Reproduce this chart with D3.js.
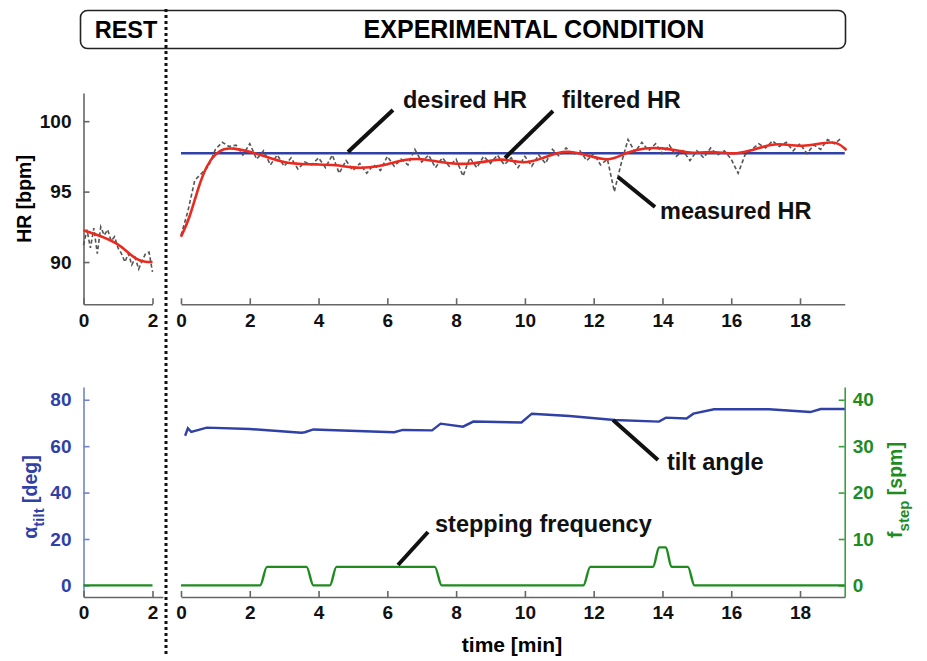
<!DOCTYPE html>
<html>
<head>
<meta charset="utf-8">
<script src="https://cdn.jsdelivr.net/npm/d3@7"></script>
<style>
  body { margin: 0; background: #fff; }
  text { font-family: "Liberation Sans", Arial, sans-serif; font-weight: bold; }
</style>
</head>
<body>
<div id="plot_chart"></div>
<script>
// --- data ---
// rest period (min 0..2)
var restTime = [0,0.1,0.2,0.3,0.4,0.5,0.6,0.7,0.8,0.9,1.0,1.1,1.2,1.3,1.4,1.5,1.6,1.7,1.8,1.9,2.0];
var restMeasured = [91.2,92.3,91.0,92.4,90.6,92.5,91.9,92.3,91.5,91.8,91.0,90.6,90.0,90.6,89.8,90.3,89.5,90.1,90.6,90.7,89.3];
var restFiltTime = [0,0.5,1.0,1.25,1.55,1.8,2.0];
var restFiltered = [92.25,91.85,91.3,90.75,90.15,90.0,90.0];

// experimental condition
var desiredHR = 97.72;
var measStep = 0.2;
var measuredHR = [91.9,93.6,95.8,96.3,96.8,98.0,98.5,98.2,98.3,97.6,
  98.4,97.3,97.9,96.9,97.6,96.8,97.4,96.6,97.1,96.9,
  97.4,96.7,97.6,96.3,97.2,96.5,97.0,96.3,96.9,96.5,
  97.5,96.8,97.3,96.9,98.0,97.1,97.6,96.7,97.4,96.8,
  97.3,96.1,97.4,96.7,97.5,97.0,97.6,96.9,97.4,96.7,
  97.5,96.8,97.6,97.0,98.0,97.5,98.1,97.6,97.9,97.2,
  97.7,96.9,97.3,95.0,97.0,98.7,97.8,98.5,97.9,98.4,
  97.7,98.3,97.5,97.9,97.2,97.9,97.4,98.1,97.6,97.9,
  97.3,96.3,97.6,98.0,98.4,98.1,98.6,98.2,98.5,97.9,
  98.4,97.7,98.3,98.0,98.7,98.4,98.8];
var filtTime = [0,0.25,0.5,0.75,1.0,1.25,1.5,2.0,2.5,3.0,3.5,4.0,4.5,5.0,5.5,6.0,6.5,7.0,7.5,8.0,8.5,9.0,9.4,9.95,10.5,11.0,11.3,11.8,12.45,12.95,13.5,14.0,14.5,14.85,15.4,16.1,16.5,17.2,17.6,18.05,18.7,19.1,19.35];
var filtered = [91.8,93.1,95.3,96.9,97.7,98.05,98.1,97.85,97.45,97.05,96.95,96.93,96.9,96.68,96.7,96.92,97.3,97.35,97.1,96.95,96.98,97.2,97.35,96.95,97.35,97.8,97.87,97.6,97.1,97.8,98.12,98.1,97.9,97.7,97.87,97.64,97.87,98.4,98.35,98.18,98.48,98.53,97.94];

var tiltTime = [0.12,0.2,0.3,0.75,2,3.5,3.6,3.85,6.2,6.45,7.3,7.55,8.2,8.5,9.9,10.2,11.3,12.6,13.9,14.1,14.7,14.9,15.5,17.1,18.3,18.6,19.3];
var tiltAngle = [64.5,67.7,66.1,68.0,67.4,65.8,66.0,67.2,66.0,67.0,66.8,69.7,68.4,70.6,70.2,74.0,73.0,71.3,70.6,72.3,71.9,74.0,75.9,75.9,74.7,76.0,76.0];

var stepTime = [0,2.3,2.5,3.65,3.85,4.33,4.52,7.38,7.58,11.7,11.9,13.73,13.9,14.1,14.26,14.74,14.93,19.3];
var stepFreq = [0,0,4,4,0,0,4,4,0,0,4,4,8.2,8.2,4,4,0,0];
var restStepTime = [0,2];
var restStep = [0,0];

var xTicksRest = [0,2];
var xTicksExp = [0,2,4,6,8,10,12,14,16,18];
var hrTicks = [90,95,100];
var tiltTicks = [0,20,40,60,80];
var stepTicks = [0,10,20,30,40];

var blue = '#2f40a6', red = '#ea2a1f', green = '#1f8c1f', gray = '#666';

var svg = d3.select('#plot_chart').append('svg').attr('width', 927).attr('height', 661);

// scales
var xRest = d3.scaleLinear().domain([0,2]).range([83.5,152.5]);
var xRestB = d3.scaleLinear().domain([0,2.3]).range([83.5,83.5+2.3*34.5]);
var xExp = d3.scaleLinear().domain([0,19.3]).range([181,181+19.3*34.39]);
var yHR = d3.scaleLinear().domain([87,102]).range([304.3,93]);
var yTilt = d3.scaleLinear().domain([-5,85.5]).range([597,387]);
var yStep = d3.scaleLinear().domain([-2.5,42.75]).range([597,387]);
var fmt = d3.format('d');

function styleAxis(g, col, txtCol) {
  g.selectAll('path,line').attr('stroke', col).attr('stroke-width', 1.6);
  g.selectAll('text').attr('fill', txtCol).style('font-size', '19px')
    .style('font-family', '"Liberation Sans", Arial, sans-serif').style('font-weight', 'bold');
}

// header
svg.append('rect').attr('x', 80.5).attr('y', 10.5).attr('width', 765).attr('height', 38).attr('rx', 7)
  .attr('fill', 'none').attr('stroke', '#222').attr('stroke-width', 1.6);
svg.append('text').attr('x', 126).attr('y', 37.5).attr('text-anchor', 'middle').style('font-size', '23.5px').text('REST');
svg.append('text').attr('x', 534).attr('y', 37.5).attr('text-anchor', 'middle').style('font-size', '25px').text('EXPERIMENTAL CONDITION');

// ---- top panels ----
var ax;
ax = svg.append('g').attr('transform', 'translate(83.5,0)')
  .call(d3.axisLeft(yHR).tickValues(hrTicks).tickSize(-6).tickSizeOuter(0).tickPadding(12).tickFormat(fmt));
styleAxis(ax, gray, '#111');
ax = svg.append('g').attr('transform', 'translate(0,304.3)')
  .call(d3.axisBottom(xRest).tickValues(xTicksRest).tickSize(-6).tickSizeOuter(0).tickPadding(9).tickFormat(fmt));
styleAxis(ax, gray, '#111');
ax = svg.append('g').attr('transform', 'translate(0,304.3)')
  .call(d3.axisBottom(xExp).tickValues(xTicksExp).tickSize(-6).tickSizeOuter(0).tickPadding(9).tickFormat(fmt));
styleAxis(ax, gray, '#111');

svg.append('text').attr('transform', 'translate(31,199) rotate(-90)').attr('text-anchor', 'middle')
  .style('font-size', '19.5px').text('HR [bpm]');

var restMeasPts = restTime.map(function(t,i){ return [xRest(t), yHR(restMeasured[i])]; });
var restFiltPts = restFiltTime.map(function(t,i){ return [xRest(t), yHR(restFiltered[i])]; });
var measPts = measuredHR.map(function(v,i){ return [xExp(i*measStep), yHR(v)]; });
var filtPts = filtTime.map(function(t,i){ return [xExp(t), yHR(filtered[i])]; });

var lineLin = d3.line();
var lineSmooth = d3.line().curve(d3.curveBasis);

svg.append('line').attr('x1', xExp(0)).attr('x2', xExp(19.3)).attr('y1', yHR(desiredHR)).attr('y2', yHR(desiredHR))
  .attr('stroke', blue).attr('stroke-width', 2.6);
[restMeasPts, measPts].forEach(function(p){
  svg.append('path').attr('d', lineLin(p)).attr('fill', 'none').attr('stroke', '#555')
    .attr('stroke-width', 1.6).attr('stroke-dasharray', '4,2.5');
});
[restFiltPts, filtPts].forEach(function(p){
  svg.append('path').attr('d', lineSmooth(p)).attr('fill', 'none').attr('stroke', red).attr('stroke-width', 2.6);
});

// ---- bottom panels ----
ax = svg.append('g').attr('transform', 'translate(83.5,0)')
  .call(d3.axisLeft(yTilt).tickValues(tiltTicks).tickSize(-6).tickSizeOuter(0).tickPadding(12).tickFormat(fmt));
styleAxis(ax, '#7384c8', blue);
ax = svg.append('g').attr('transform', 'translate(844.7,0)')
  .call(d3.axisRight(yStep).tickValues(stepTicks).tickSize(-6).tickSizeOuter(0).tickPadding(8).tickFormat(fmt));
styleAxis(ax, '#3a9f3a', green);
ax = svg.append('g').attr('transform', 'translate(0,597)')
  .call(d3.axisBottom(xRestB).tickValues(xTicksRest).tickSize(-6).tickSizeOuter(0).tickPadding(9).tickFormat(fmt));
styleAxis(ax, gray, '#111');
ax = svg.append('g').attr('transform', 'translate(0,597)')
  .call(d3.axisBottom(xExp).tickValues(xTicksExp).tickSize(-6).tickSizeOuter(0).tickPadding(9).tickFormat(fmt));
styleAxis(ax, gray, '#111');

var aLab = svg.append('text').attr('transform', 'translate(37,497) rotate(-90)').attr('text-anchor', 'middle')
  .attr('fill', blue).style('font-size', '19.5px');
aLab.append('tspan').text('\u03b1');
aLab.append('tspan').attr('dy', 7).style('font-size', '15px').text('tilt');
aLab.append('tspan').attr('dy', -7).text(' [deg]');

var fLab = svg.append('text').attr('transform', 'translate(902,490) rotate(-90)').attr('text-anchor', 'middle')
  .attr('fill', green).style('font-size', '19.5px');
fLab.append('tspan').text('f');
fLab.append('tspan').attr('dy', 7).style('font-size', '15px').text('step');
fLab.append('tspan').attr('dy', -7).text(' [spm]');

svg.append('text').attr('x', 512).attr('y', 652).attr('text-anchor', 'middle').style('font-size', '21px').text('time [min]');

var stepLine = d3.line().curve(d3.curveMonotoneX);
svg.append('path').attr('d', stepLine(restStepTime.map(function(t,i){ return [xRest(t), yStep(restStep[i])]; })))
  .attr('fill', 'none').attr('stroke', green).attr('stroke-width', 2.4);
svg.append('path').attr('d', stepLine(stepTime.map(function(t,i){ return [xExp(t), yStep(stepFreq[i])]; })))
  .attr('fill', 'none').attr('stroke', green).attr('stroke-width', 2.4);
svg.append('path').attr('d', lineLin(tiltTime.map(function(t,i){ return [xExp(t), yTilt(tiltAngle[i])]; })))
  .attr('fill', 'none').attr('stroke', blue).attr('stroke-width', 2.4);

// dotted separator
svg.append('line').attr('x1', 166).attr('x2', 166).attr('y1', 9).attr('y2', 656)
  .attr('stroke', '#111').attr('stroke-width', 3).attr('stroke-dasharray', '3,3');

// annotations
var notes = [
  { text: 'desired HR', x1: 348, y1: 152, x2: 393, y2: 110, tx: 403, ty: 108 },
  { text: 'filtered HR', x1: 505, y1: 158, x2: 553, y2: 111, tx: 562, ty: 108 },
  { text: 'measured HR', x1: 618, y1: 177, x2: 655, y2: 207, tx: 660, ty: 219 },
  { text: 'tilt angle', x1: 613, y1: 420, x2: 658, y2: 460, tx: 667, ty: 470 },
  { text: 'stepping frequency', x1: 398, y1: 565, x2: 428, y2: 532, tx: 435, ty: 532 }
];
notes.forEach(function(n){
  svg.append('line').attr('x1', n.x1).attr('y1', n.y1).attr('x2', n.x2).attr('y2', n.y2)
    .attr('stroke', '#111').attr('stroke-width', 4);
  svg.append('text').attr('x', n.tx).attr('y', n.ty).attr('fill', '#111').style('font-size', '23.5px').text(n.text);
});
</script>
</body>
</html>
